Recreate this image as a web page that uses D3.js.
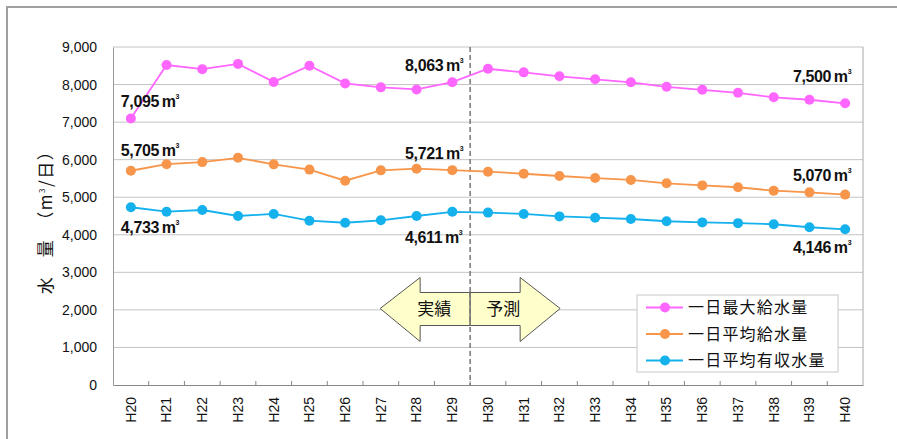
<!DOCTYPE html>
<html>
<head>
<meta charset="utf-8">
<script src="https://cdn.jsdelivr.net/npm/d3@7"></script>
<style>
  body { margin: 0; background: #fff; }
  text { font-family: "Liberation Sans", Arial, "Noto Sans CJK JP", sans-serif; }
  .jp { font-family: "Noto Sans CJK JP", sans-serif; }
</style>
</head>
<body>
<svg width="897" height="439"></svg>
<script>
const years = ['H20','H21','H22','H23','H24','H25','H26','H27','H28','H29',
  'H30','H31','H32','H33','H34','H35','H36','H37','H38','H39','H40'];
const maxSupply = [7095,8520,8410,8550,8070,8500,8030,7925,7870,8063,
  8420,8325,8220,8140,8060,7940,7860,7780,7660,7595,7500];
const avgSupply = [5705,5880,5935,6050,5875,5735,5440,5715,5760,5721,
  5680,5625,5565,5510,5460,5370,5315,5265,5175,5130,5070];
const avgBilled = [4733,4615,4660,4500,4555,4375,4320,4385,4500,4611,
  4590,4555,4490,4455,4420,4360,4330,4310,4280,4200,4146];
const seriesNames = ['一日最大給水量','一日平均給水量','一日平均有収水量'];
const yTicks = [0,1000,2000,3000,4000,5000,6000,7000,8000,9000];

const svg = d3.select('svg');
const marg = {top: 47, right: 34, bottom: 54, left: 113};
const W = 897 - marg.left - marg.right;
const H = 439 - marg.top - marg.bottom;
const colors = ['#ff66ff', '#f7964a', '#14b1ec'];

// outer frame (top + left only)
svg.append('path').attr('d', 'M7,439V7H897')
  .attr('fill', 'none').attr('stroke', '#a0a0a0').attr('stroke-width', 2);

const x = d3.scaleBand().domain(years).range([0, W]);
const y = d3.scaleLinear().domain([0, 9000]).range([H, 0]);
const cx = d => x(d) + x.bandwidth() / 2;

const g = svg.append('g').attr('transform', `translate(${marg.left},${marg.top})`);

// gridlines
g.selectAll('.grid').data(yTicks.slice(1)).enter().append('line')
  .attr('x1', 0).attr('x2', W)
  .attr('y1', d => y(d)).attr('y2', d => y(d))
  .attr('stroke', '#c4c4c4').attr('stroke-width', 1);
g.append('line').attr('x1', W).attr('x2', W).attr('y1', 0).attr('y2', H)
  .attr('stroke', '#a8a8a8');

// y axis
const yAxisG = g.append('g').call(d3.axisLeft(y).tickValues(yTicks).tickSize(0)
  .tickPadding(16).tickFormat(d3.format(',')));
yAxisG.select('.domain').attr('stroke', '#999');
yAxisG.selectAll('text').attr('font-size', 14).attr('fill', '#111')
  .attr('font-family', '"Liberation Sans", Arial, sans-serif');

// x axis, ticks on band edges pointing up
const xAxisG = g.append('g').attr('transform', `translate(0,${H})`)
  .call(d3.axisBottom(x).tickSize(0));
xAxisG.select('.domain').attr('stroke', '#888');
xAxisG.selectAll('text')
  .attr('font-size', 14).attr('fill', '#111')
  .attr('font-family', '"Liberation Sans", Arial, sans-serif')
  .attr('text-anchor', 'end')
  .attr('transform', 'rotate(-90)')
  .attr('x', -12).attr('y', 0).attr('dy', '0.35em');
g.selectAll('.edge').data(years.slice(1)).enter().append('line')
  .attr('x1', d => x(d)).attr('x2', d => x(d))
  .attr('y1', H).attr('y2', H - 4)
  .attr('stroke', '#888');

// y axis title
const yt = svg.append('text')
  .attr('transform', 'translate(46,218) rotate(-90)')
  .attr('text-anchor', 'middle').attr('font-size', 17).attr('fill', '#111')
  .attr('letter-spacing', 1.5)
  .attr('class', 'jp').attr('dy', '0.35em');
yt.append('tspan').text('水　量　（m');
yt.append('tspan').text('3').attr('font-size', 8).attr('dy', -7);
yt.append('tspan').text('/日）').attr('dy', 7);

// divider between actual / forecast
const divX = x('H30');
g.append('line').attr('x1', divX).attr('x2', divX).attr('y1', 0).attr('y2', H)
  .attr('stroke', '#777').attr('stroke-width', 1.5).attr('stroke-dasharray', '5,3');

// arrows
const arrowY = 308.5 - marg.top;
const leftArrow = [[-90, 0], [-50, -31], [-50, -16], [0, -16], [0, 17], [-50, 17], [-50, 33]];
const rightArrow = leftArrow.map(([a, b]) => [-a, b]);
[leftArrow, rightArrow].forEach((pts, i) => {
  g.append('path')
    .attr('d', d3.line()(pts.map(([a, b]) => [divX + a, arrowY + b])) + 'Z')
    .attr('fill', '#ffffcc').attr('stroke', '#555').attr('stroke-width', 1);
  g.append('text').attr('class', 'jp')
    .attr('x', divX + (i === 0 ? -36 : 33)).attr('y', arrowY).attr('dy', '0.36em')
    .attr('text-anchor', 'middle').attr('font-size', 17).attr('fill', '#111')
    .text(i === 0 ? '実績' : '予測');
});
g.append('line').attr('x1', divX).attr('x2', divX)
  .attr('y1', arrowY - 16).attr('y2', arrowY + 17)
  .attr('stroke', '#777').attr('stroke-width', 1.5).attr('stroke-dasharray', '5,3');

// series
const allSeries = [maxSupply, avgSupply, avgBilled];
const line = d3.line().x((d, i) => cx(years[i])).y(d => y(d));
allSeries.forEach((s, k) => {
  g.append('path').datum(s).attr('d', line)
    .attr('fill', 'none').attr('stroke', colors[k]).attr('stroke-width', 1.8);
  g.selectAll('.pt' + k).data(s).enter().append('circle')
    .attr('cx', (d, i) => cx(years[i])).attr('cy', d => y(d))
    .attr('r', 5).attr('fill', colors[k]);
});

// value labels: [series, index, anchor, dx, dy]
const labelSpots = [
  [0, 0, 'start', -10, -12], [1, 0, 'start', -10, -15], [2, 0, 'start', -10, 26],
  [0, 9, 'end', 11, -11], [1, 9, 'end', 11, -11.5], [2, 9, 'end', 10, 31],
  [0, 20, 'end', 6, -21.5], [1, 20, 'end', 6, -13.5], [2, 20, 'end', 6, 24]
];
labelSpots.forEach(([k, i, anchor, dx, dy]) => {
  const v = allSeries[k][i];
  const t = g.append('text')
    .attr('x', cx(years[i]) + dx).attr('y', y(v) + dy)
    .attr('text-anchor', anchor).attr('font-size', 16).attr('font-weight', 'bold')
    .attr('fill', '#111').attr('letter-spacing', -0.4);
  t.append('tspan').text(d3.format(',')(v) + '\u2009m');
  t.append('tspan').text('3').attr('font-size', 7).attr('dy', -8);
});

// legend
const lg = svg.append('g').attr('transform', 'translate(637,295)');
lg.append('rect').attr('width', 201).attr('height', 77)
  .attr('fill', '#fff').attr('stroke', '#c8c8c8');
seriesNames.forEach((name, k) => {
  const ly = 12.5 + k * 26.5;
  lg.append('line').attr('x1', 9).attr('x2', 46).attr('y1', ly).attr('y2', ly)
    .attr('stroke', colors[k]).attr('stroke-width', 1.8);
  lg.append('circle').attr('cx', 28).attr('cy', ly).attr('r', 5).attr('fill', colors[k]);
  lg.append('text').attr('class', 'jp').attr('x', 51).attr('y', ly).attr('dy', '0.36em')
    .attr('font-size', 16).attr('letter-spacing', 1.2).attr('fill', '#111').text(name);
});
</script>
</body>
</html>
